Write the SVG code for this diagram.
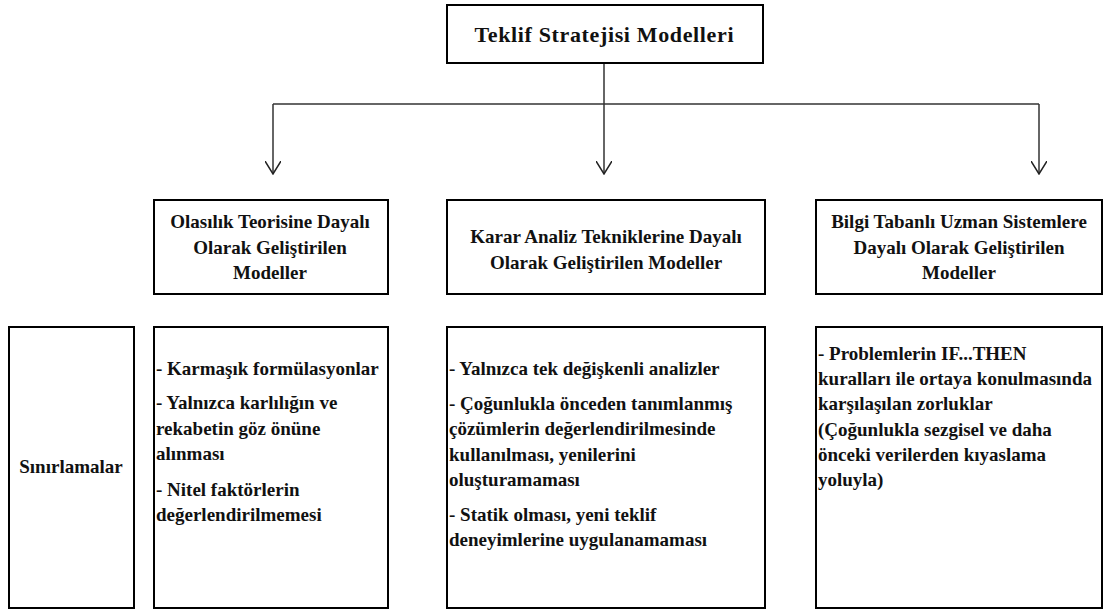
<svg xmlns="http://www.w3.org/2000/svg" width="1105" height="610" viewBox="0 0 1105 610">
  <defs>
    <style>
      .box { fill: #fff; stroke: #000; stroke-width: 2; }
      .wire { fill: none; stroke: #333; stroke-width: 1.5; }
    </style>
    <marker id="vee" viewBox="0 0 14 16" refX="13" refY="8" markerWidth="14" markerHeight="16" markerUnits="userSpaceOnUse" orient="auto">
      <path d="M0,0 L13,8 L0,16" fill="none" stroke="#222" stroke-width="1.5"/>
    </marker>
  </defs>

  <rect width="1105" height="610" fill="#fff"/>

  <!-- connectors -->
  <g id="connectors">
    <line class="wire" x1="604" y1="63" x2="604" y2="104"/>
    <line class="wire" x1="273" y1="104" x2="1039" y2="104"/>
    <path class="wire" d="M273,104 V174" marker-end="url(#vee)"/>
    <path class="wire" d="M604,104 V174" marker-end="url(#vee)"/>
    <path class="wire" d="M1039,104 V174" marker-end="url(#vee)"/>
  </g>

  <g font-family="'Liberation Serif', 'Times New Roman', Times, serif" font-weight="bold" font-size="19" fill="#111">

    <!-- root -->
    <g id="root">
      <rect class="box" x="447" y="5" width="316" height="58"/>
      <text x="604" y="42" text-anchor="middle" font-size="22" textLength="259" lengthAdjust="spacing">Teklif Stratejisi Modelleri</text>
    </g>

    <!-- model families -->
    <g id="model-probability" text-anchor="middle">
      <rect class="box" x="154" y="200" width="234" height="94"/>
      <text x="270" y="228">Olasılık Teorisine Dayalı</text>
      <text x="270" y="254">Olarak Geliştirilen</text>
      <text x="270" y="279">Modeller</text>
    </g>

    <g id="model-decision" text-anchor="middle">
      <rect class="box" x="447" y="200" width="318" height="94"/>
      <text x="606" y="243">Karar Analiz Tekniklerine Dayalı</text>
      <text x="606" y="269">Olarak Geliştirilen Modeller</text>
    </g>

    <g id="model-expert" text-anchor="middle">
      <rect class="box" x="816" y="200" width="286" height="94"/>
      <text x="959" y="228">Bilgi Tabanlı Uzman Sistemlere</text>
      <text x="959" y="254">Dayalı Olarak Geliştirilen</text>
      <text x="959" y="279">Modeller</text>
    </g>

    <!-- limitations row -->
    <g id="limits-label" text-anchor="middle">
      <rect class="box" x="9" y="327" width="125" height="281"/>
      <text x="71" y="473">Sınırlamalar</text>
    </g>

    <g id="limits-probability">
      <rect class="box" x="154" y="327" width="234" height="281"/>
      <text x="156" y="375">- Karmaşık formülasyonlar</text>
      <text x="156" y="409">- Yalnızca karlılığın ve</text>
      <text x="156" y="435">rekabetin göz önüne</text>
      <text x="156" y="460">alınması</text>
      <text x="156" y="496">- Nitel faktörlerin</text>
      <text x="156" y="521">değerlendirilmemesi</text>
    </g>

    <g id="limits-decision">
      <rect class="box" x="447" y="327" width="318" height="281"/>
      <text x="449" y="375">- Yalnızca tek değişkenli analizler</text>
      <text x="449" y="410">- Çoğunlukla önceden tanımlanmış</text>
      <text x="449" y="435">çözümlerin değerlendirilmesinde</text>
      <text x="449" y="461">kullanılması, yenilerini</text>
      <text x="449" y="486">oluşturamaması</text>
      <text x="449" y="521">- Statik olması, yeni teklif</text>
      <text x="449" y="546">deneyimlerine uygulanamaması</text>
    </g>

    <g id="limits-expert">
      <rect class="box" x="816" y="327" width="286" height="281"/>
      <text x="818" y="360">- Problemlerin IF...THEN</text>
      <text x="818" y="385">kuralları ile ortaya konulmasında</text>
      <text x="818" y="410">karşılaşılan zorluklar</text>
      <text x="818" y="436">(Çoğunlukla sezgisel ve daha</text>
      <text x="818" y="461">önceki verilerden kıyaslama</text>
      <text x="818" y="486">yoluyla)</text>
    </g>
  </g>
</svg>
